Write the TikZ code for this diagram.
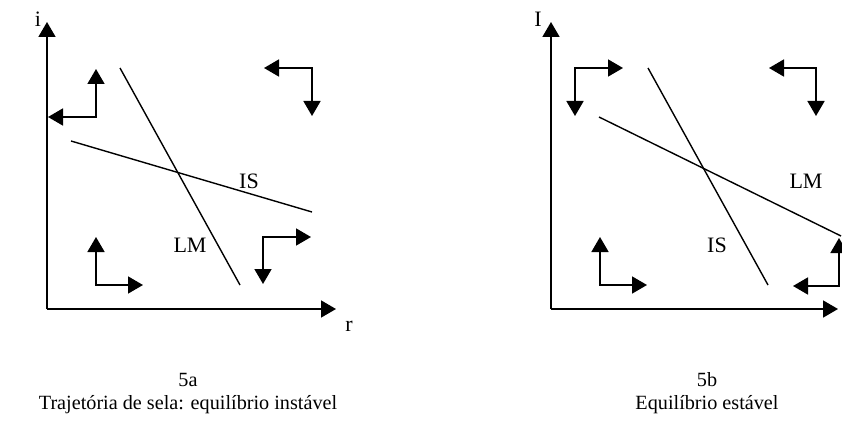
\documentclass[tikz,border=0pt]{standalone}
\usepackage{fontspec}
\setmainfont{Liberation Serif}
\usetikzlibrary{arrows.meta}
\tikzset{
  ax/.style={line width=1.7pt,-{Triangle[width=17pt,length=15pt]}},
  curve/.style={line width=1.4pt},
  pair/.style={line width=1.7pt,{Triangle[width=17pt,length=15pt]}-{Triangle[width=17pt,length=15pt]}},
  lbl/.style={font=\fontsize{22}{26}\selectfont,inner sep=0pt},
  captext/.style={font=\fontsize{20.2}{24}\selectfont,inner sep=0pt},
}
\begin{document}
\begin{tikzpicture}[x=1pt,y=-1pt]
\useasboundingbox (0,0) rectangle (842,433);
\clip (0,0) rectangle (842,433);
% ---------- left panel (5a)
\coordinate (oa) at (47,309);
\coordinate (ya) at (47,22);
\coordinate (xa) at (336,309);
\draw[ax] (oa) -- (ya);
\draw[ax] (oa) -- (xa);
\node[lbl] (ia) at (38,19) {i};
\node[lbl] (ra) at (349,326) {r};
\coordinate (lma1) at (120,68); \coordinate (lma2) at (240,285);
\coordinate (isa1) at (71,141); \coordinate (isa2) at (312,212);
\draw[curve] (lma1) -- (lma2);
\draw[curve] (isa1) -- (isa2);
\node[lbl] (isla) at (249,181) {IS};
\node[lbl] (lmla) at (190,245) {LM};
% arrow pairs
\coordinate (a1u) at (96,69); \coordinate (a1l) at (48,117);
\draw[pair] (a1u) |- (a1l);
\coordinate (a2l) at (264,68); \coordinate (a2d) at (312,116);
\draw[pair] (a2l) -| (a2d);
\coordinate (a3u) at (96,237); \coordinate (a3r) at (143,285);
\draw[pair] (a3u) |- (a3r);
\coordinate (a4d) at (263,284); \coordinate (a4r) at (311,237);
\draw[pair] (a4d) |- (a4r);
% ---------- right panel (5b)
\coordinate (ob) at (551,309);
\coordinate (yb) at (551,22);
\coordinate (xb) at (838,309);
\draw[ax] (ob) -- (yb);
\draw[ax] (ob) -- (xb);
\node[lbl] (ib) at (538,19) {I};
\coordinate (isb1) at (648,68); \coordinate (isb2) at (768,285);
\coordinate (lmb1) at (599,117); \coordinate (lmb2) at (841,236);
\draw[curve] (isb1) -- (isb2);
\draw[curve] (lmb1) -- (lmb2);
\node[lbl] (lmlb) at (806,181) {LM};
\node[lbl] (islb) at (717,245) {IS};
\coordinate (b1r) at (623,68); \coordinate (b1d) at (575,116);
\draw[pair] (b1r) -| (b1d);
\coordinate (b2l) at (769,68); \coordinate (b2d) at (816,116);
\draw[pair] (b2l) -| (b2d);
\coordinate (b3u) at (600,237); \coordinate (b3r) at (647,285);
\draw[pair] (b3u) |- (b3r);
\coordinate (b4l) at (793,286); \coordinate (b4u) at (839,238);
\draw[pair] (b4l) -| (b4u);
% ---------- captions
\node[captext] (ca1) at (188,380) {5a};
\node[captext] (ca2) at (188,405) {Trajetória de sela: equilíbrio instável};
\node[captext] (cb1) at (707,380) {5b};
\node[captext] (cb2) at (707,405) {Equilíbrio estável};
\end{tikzpicture}
\end{document}
